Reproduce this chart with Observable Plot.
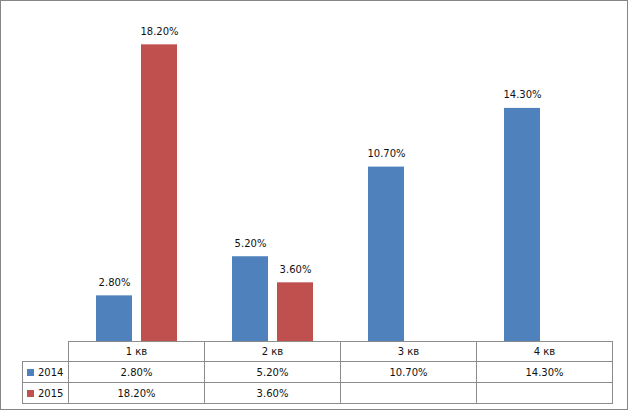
<!DOCTYPE html>
<html>
<head>
<meta charset="utf-8">
<script src="https://cdn.jsdelivr.net/npm/d3@7"></script>
<script src="https://cdn.jsdelivr.net/npm/@observablehq/plot@0.6"></script>
<style>
  html, body { margin: 0; padding: 0; background: #fff; }
  #wrap { position: relative; width: 628px; height: 411px; overflow: hidden; font-family: "DejaVu Sans", sans-serif; }
  #frame { position: absolute; left: 0; top: 0; width: 626px; height: 408px; border: 1px solid #868686; pointer-events: none; }
  #chart { position: absolute; left: 0; top: 0; }
  #tbl { position: absolute; left: 22px; top: 341px; border-collapse: collapse; table-layout: fixed; font-size: 10px; color: #111; }
  #tbl td { border: 1px solid #8c8c8c; text-align: center; padding: 0; white-space: nowrap; }
  #tbl tr.h td { height: 19px; }
  #tbl tr.r td { height: 20px; }
  #tbl td.blank { border-top: none; border-left: none; }
  #tbl td.leg { text-align: left; padding-left: 4px; }
  .sw { display: inline-block; width: 7px; height: 7px; margin-right: 4px; vertical-align: 0px; }
</style>
</head>
<body>
<div id="wrap">
  <div id="chart"></div>
  <table id="tbl"></table>
  <div id="frame"></div>
</div>
<script>
const quarters = ["1 кв", "2 кв", "3 кв", "4 кв"];
const series = ["2014", "2015"];
const values2014 = [2.8, 5.2, 10.7, 14.3];
const values2015 = [18.2, 3.6, null, null];
const colors = ["#4f81bd", "#c0504d"];

const valuesBySeries = [values2014, values2015];
const data = [];
series.forEach((s, si) => {
  quarters.forEach((q, qi) => {
    const v = valuesBySeries[si][qi];
    if (v != null) data.push({ q, s, v });
  });
});
const fmt = v => v.toFixed(2) + "%";

const chart = Plot.plot({
  width: 628,
  height: 342,
  marginLeft: 68,
  marginRight: 16,
  marginTop: 15,
  marginBottom: 1,
  style: { fontFamily: "DejaVu Sans", fontSize: "10px", background: "transparent" },
  fx: { domain: quarters, padding: 0, axis: null },
  x: { domain: series, paddingInner: 0.2, paddingOuter: 0.61, axis: null },
  y: { domain: [0, 20], axis: null },
  color: { domain: series, range: colors },
  marks: [
    Plot.barY(data, { fx: "q", x: "s", y: "v", fill: "s", inset: 0 }),
    Plot.text(data, { fx: "q", x: "s", y: "v", text: d => fmt(d.v), lineAnchor: "bottom", dy: -10, fontSize: 10, fill: "#111" })
  ]
});
document.getElementById("chart").appendChild(chart);

// data table below the chart
const tbl = document.getElementById("tbl");
const colgroup = document.createElement("colgroup");
[46, 136, 136, 136, 136].forEach(w => {
  const c = document.createElement("col");
  c.style.width = w + "px";
  colgroup.appendChild(c);
});
tbl.appendChild(colgroup);
const hr = document.createElement("tr");
hr.className = "h";
const blank = document.createElement("td");
blank.className = "blank";
hr.appendChild(blank);
quarters.forEach(q => {
  const td = document.createElement("td");
  td.textContent = q;
  hr.appendChild(td);
});
tbl.appendChild(hr);
series.forEach((s, si) => {
  const tr = document.createElement("tr");
  tr.className = "r";
  const lg = document.createElement("td");
  lg.className = "leg";
  const sw = document.createElement("span");
  sw.className = "sw";
  sw.style.background = colors[si];
  lg.appendChild(sw);
  lg.appendChild(document.createTextNode(s));
  tr.appendChild(lg);
  quarters.forEach((q, qi) => {
    const td = document.createElement("td");
    const v = valuesBySeries[si][qi];
    td.textContent = v == null ? "" : fmt(v);
    tr.appendChild(td);
  });
  tbl.appendChild(tr);
});
</script>
</body>
</html>
